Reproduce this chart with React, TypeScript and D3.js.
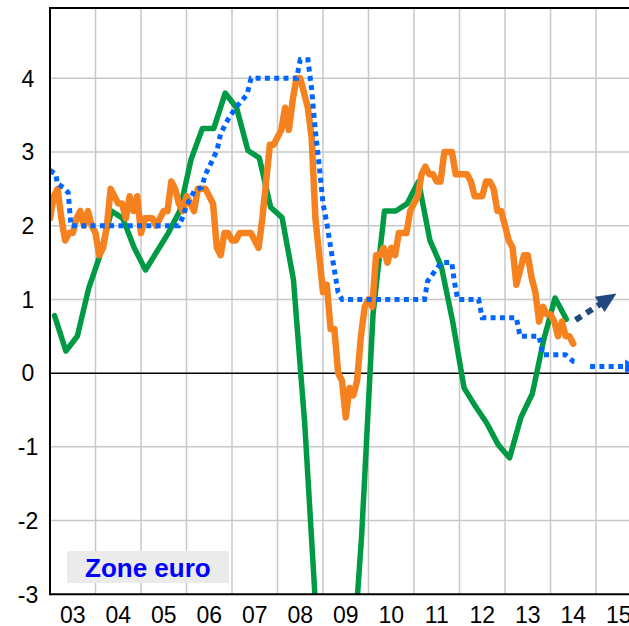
import React from 'react';
import * as d3 from 'd3';

// ---- data ----
const yearLabels = ['03', '04', '05', '06', '07', '08', '09', '10', '11', '12', '13', '14', '15'];
const yearStarts = [2003, 2004, 2005, 2006, 2007, 2008, 2009, 2010, 2011, 2012, 2013, 2014, 2015];
const yTicks = [-3, -2, -1, 0, 1, 2, 3, 4];

// GDP growth y/y, quarterly, first quarter 2003 Q1
const gdpFirstQuarter = 2003.1;
const gdp = [
  0.78, 0.3, 0.5, 1.15,
  1.6, 2.2, 2.1, 1.7,
  1.4, 1.65, 1.9, 2.2,
  2.9, 3.32, 3.32, 3.8,
  3.6, 3.02, 2.92, 2.25,
  2.11, 1.27, -0.7, -3.3,
  -5.3, -5.2, -4.4, -2.2,
  0.8, 2.2, 2.2, 2.3,
  2.6, 1.8, 1.45, 0.7,
  -0.2, -0.45, -0.68, -0.97,
  -1.15, -0.6, -0.28, 0.45,
  1.02, 0.73,
];

// HICP inflation y/y, monthly from Jan 2003
const hicpFirstMonth = 2003.0;
const hicp = [
  2.1, 2.4, 2.5, 2.1, 1.8, 1.9, 1.9, 2.1, 2.2, 2.0, 2.2, 2.0,
  1.9, 1.6, 1.7, 2.0, 2.5, 2.4, 2.3, 2.3, 2.1, 2.4, 2.2, 2.4,
  1.9, 2.1, 2.1, 2.1, 2.0, 2.1, 2.2, 2.2, 2.6, 2.5, 2.3, 2.2,
  2.4, 2.3, 2.2, 2.5, 2.5, 2.5, 2.4, 2.3, 1.7, 1.6, 1.9, 1.9,
  1.8, 1.8, 1.9, 1.9, 1.9, 1.9, 1.8, 1.7, 2.1, 2.6, 3.1, 3.1,
  3.2, 3.3, 3.6, 3.3, 3.7, 4.0, 4.0, 3.8, 3.6, 3.2, 2.1, 1.6,
  1.1, 1.2, 0.6, 0.6, 0.0, -0.1, -0.6, -0.2, -0.3, -0.1, 0.5, 0.9,
  1.0, 0.9, 1.6, 1.6, 1.7, 1.5, 1.7, 1.6, 1.9, 1.9, 1.9, 2.2,
  2.3, 2.4, 2.7, 2.8, 2.7, 2.7, 2.6, 2.6, 3.0, 3.0, 3.0, 2.7,
  2.7, 2.7, 2.7, 2.6, 2.4, 2.4, 2.4, 2.6, 2.6, 2.5, 2.2, 2.2,
  2.0, 1.8, 1.7, 1.2, 1.4, 1.6, 1.6, 1.3, 1.1, 0.7, 0.9, 0.8,
  0.8, 0.7, 0.5, 0.7, 0.5, 0.5, 0.4,
];

// ECB main refinancing rate (breakpoints)
const refiT = [
  2003.0, 2003.13, 2003.16, 2003.29, 2003.4, 2003.46,
  2005.83, 2005.92, 2006.0, 2006.17, 2006.33, 2006.42, 2006.5, 2006.67, 2006.75, 2006.92,
  2007.08, 2007.25, 2007.33, 2007.42,
  2008.42, 2008.5, 2008.67, 2008.75, 2008.83, 2008.92, 2009.0, 2009.08, 2009.17, 2009.25, 2009.33, 2009.42,
  2011.23, 2011.3, 2011.5, 2011.6, 2011.83, 2011.89, 2011.96,
  2012.42, 2012.5, 2013.25, 2013.33, 2013.75, 2013.83, 2014.33, 2014.5, 2014.58,
];
const refiV = [
  2.75, 2.7, 2.57, 2.52, 2.45, 2.0,
  2.0, 2.12, 2.27, 2.47, 2.52, 2.7, 2.8, 3.02, 3.25, 3.45,
  3.6, 3.72, 3.78, 4.0,
  4.0, 4.25, 4.25, 3.85, 3.3, 2.8, 2.3, 2.05, 1.7, 1.4, 1.1, 1.0,
  1.0, 1.25, 1.42, 1.5, 1.5, 1.23, 1.0,
  1.0, 0.75, 0.75, 0.5, 0.5, 0.25, 0.25, 0.16, 0.15,
];
const refiFutureT = [2014.87, 2015.64];
const refiFutureV = [0.09, 0.09];

// Inflation outlook arrow
const outlookT = [2014.55, 2015.45];
const outlookV = [0.72, 1.08];

const FONT = 'Liberation Sans, Arial, Helvetica, sans-serif';

export default function App() {
  const W = 629;
  const H = 626;
  const x = d3.scaleLinear().domain([2003, 2015]).range([50, 596]);
  const y = d3.scaleLinear().domain([-3, 4]).range([594.3, 78.3]);
  const left = 50;
  const right = W;
  const top = 8;
  const bottom = y(-3);

  const line = d3
    .line<[number, number]>()
    .x((d) => x(d[0]))
    .y((d) => y(d[1]));

  const gdpPts: [number, number][] = gdp.map((v, i) => [gdpFirstQuarter + i * 0.25, v]);
  const hicpPts: [number, number][] = hicp.map((v, i) => [hicpFirstMonth + i / 12, v]);
  const refiPts: [number, number][] = refiT.map((t, i) => [t, refiV[i]]);

  // refi future line + arrowhead
  const fx0 = x(refiFutureT[0]);
  const fx1 = x(refiFutureT[1]);
  const fy = y(refiFutureV[0]);

  // outlook arrow
  const p0x = x(outlookT[0]);
  const p0y = y(outlookV[0]);
  const tx = x(outlookT[1]);
  const ty = y(outlookV[1]);
  const dx = tx - p0x;
  const dy = ty - p0y;
  const len = Math.sqrt(dx * dx + dy * dy);
  const ux = dx / len;
  const uy = dy / len;
  const nx = -uy;
  const ny = ux;
  const headL = 20;
  const headW = 9;
  const bx = tx - ux * headL;
  const by = ty - uy * headL;
  const lineEndX = tx - ux * (headL - 2);
  const lineEndY = ty - uy * (headL - 2);

  return (
    <svg
      width={W}
      height={H}
      style={{ position: 'absolute', left: 0, top: 0, background: '#fff' }}
      fontFamily={FONT}
    >
      <defs>
        <clipPath id="plot">
          <rect x={left} y={top} width={right - left} height={bottom - top} />
        </clipPath>
      </defs>
      <rect x={0} y={0} width={W} height={H} fill="#fff" />

      {/* grid */}
      {yTicks
        .filter((v) => v !== 0 && v !== -3)
        .map((v) => (
          <line key={'h' + v} x1={left} x2={right} y1={y(v)} y2={y(v)} stroke="#c8c8c8" strokeWidth={1.5} />
        ))}
      {yearStarts
        .filter((t) => t > 2003)
        .map((t) => (
          <line key={'v' + t} x1={x(t)} x2={x(t)} y1={top} y2={bottom} stroke="#c8c8c8" strokeWidth={1.5} />
        ))}

      {/* zero line */}
      <line x1={left} x2={right} y1={y(0)} y2={y(0)} stroke="#000" strokeWidth={1.5} />

      <g clipPath="url(#plot)">
        <path
          d={line(gdpPts) || ''}
          fill="none"
          stroke="#009a44"
          strokeWidth={5.5}
          strokeLinejoin="round"
          strokeLinecap="round"
        />
        <path
          d={line(hicpPts) || ''}
          fill="none"
          stroke="#f5821f"
          strokeWidth={6.5}
          strokeLinejoin="round"
          strokeLinecap="round"
        />
        <path
          d={line(refiPts) || ''}
          fill="none"
          stroke="#0066ff"
          strokeWidth={5}
          strokeDasharray="5 4.3"
        />
        <line x1={fx0} x2={fx1} y1={fy} y2={fy} stroke="#0066ff" strokeWidth={5} strokeDasharray="5 4.3" />
        <polygon points={`${fx1},${fy - 7} ${fx1 + 12},${fy} ${fx1},${fy + 7}`} fill="#0066ff" />

        <line
          x1={p0x}
          y1={p0y}
          x2={lineEndX}
          y2={lineEndY}
          stroke="#21497f"
          strokeWidth={6}
          strokeDasharray="7 6"
        />
        <polygon
          points={`${tx},${ty} ${bx + nx * headW},${by + ny * headW} ${bx - nx * headW},${by - ny * headW}`}
          fill="#21497f"
        />
      </g>

      {/* frame */}
      <line x1={left} x2={right} y1={top} y2={top} stroke="#000" strokeWidth={2.2} />
      <line x1={left} x2={left} y1={top - 1} y2={bottom + 1} stroke="#000" strokeWidth={2} />
      <line x1={left} x2={right} y1={bottom} y2={bottom} stroke="#000" strokeWidth={2} />

      {/* y labels */}
      {yTicks.map((v) => (
        <text key={'yl' + v} x={28} y={y(v)} dy="0.36em" textAnchor="middle" fontSize={23} fill="#000">
          {v}
        </text>
      ))}

      {/* x labels */}
      {yearLabels.map((lab, i) => (
        <text key={'xl' + lab} x={x(yearStarts[i] + 0.5)} y={622.5} textAnchor="middle" fontSize={23} fill="#000">
          {lab}
        </text>
      ))}

      {/* label box */}
      <rect x={67} y={551} width={162} height={32} fill="#ebebeb" />
      <text x={85} y={577} fontSize={26} fontWeight="bold" fill="#0000ff">
        Zone euro
      </text>
    </svg>
  );
}
